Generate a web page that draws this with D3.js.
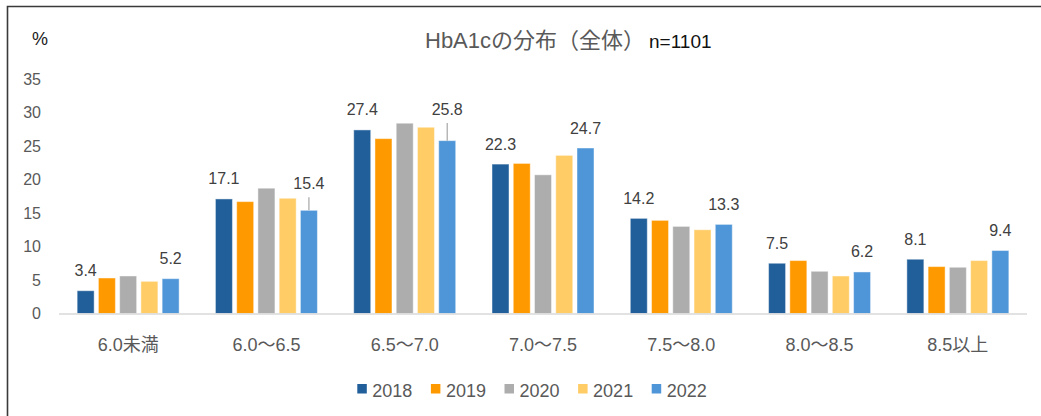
<!DOCTYPE html>
<html>
<head>
<meta charset="utf-8">
<script src="https://cdn.jsdelivr.net/npm/d3@7"></script>
<style>
	body{margin:0;background:#fff;}
	svg text{font-family:"Liberation Sans",Arial,"Noto Sans CJK JP",sans-serif;}
</style>
</head>
<body>
<div id="chart"></div>
<script>

// data
var categories=["6.0未満","6.0～6.5","6.5～7.0","7.0～7.5","7.5～8.0","8.0～8.5","8.5以上"];
var years=["2018","2019","2020","2021","2022"];
var v2018=[3.4,17.1,27.4,22.3,14.2,7.5,8.1],
	v2019=[5.3,16.7,26.1,22.4,13.9,7.9,7.0],
	v2020=[5.6,18.7,28.4,20.7,13.0,6.3,6.9],
	v2021=[4.8,17.2,27.8,23.6,12.5,5.6,7.9],
	v2022=[5.2,15.4,25.8,24.7,13.3,6.2,9.4];
var yTicks=[0,5,10,15,20,25,30,35];
var labelledYears=["2018","2022"];

var series=[v2018,v2019,v2020,v2021,v2022];
var colors=["#215f9a","#ff9900","#adadad","#ffcc66","#4f96d8"];

// labels pushed up with a leader line (category index|year -> extra lift)
var lift={"1|2022":7,"2|2022":11.6};

var WIDTH=1041,
	HEIGHT=416;

var svg=d3.select("#chart")
			.append("svg")
				.attr("width",WIDTH)
				.attr("height",HEIGHT);

svg.append("rect")
	.attr("width",WIDTH)
	.attr("height",HEIGHT)
	.attr("fill","#fff");

// frame (top and left edges only)
svg.append("path")
	.attr("d","M7.5,"+HEIGHT+"V6.5H"+WIDTH)
	.attr("fill","none")
	.attr("stroke","#3a3a3a")
	.attr("stroke-width",1.6);

var yscale=d3.scaleLinear()
		.domain([0,35])
		.range([313.5,79]);

var x0=d3.scaleBand()
		.domain(categories)
		.range([59,1027])
		.paddingInner(0.2625)
		.paddingOuter(0.13125);

var x1=d3.scaleBand()
		.domain(years)
		.range([0,x0.bandwidth()])
		.paddingInner(0.2)
		.paddingOuter(0);

// y axis
var yaxis=svg.append("g")
		.attr("transform","translate(45,0)")
		.call(d3.axisLeft(yscale).tickValues(yTicks).tickSize(0).tickPadding(4));
yaxis.select(".domain").remove();
yaxis.selectAll("text")
	.attr("fill","#595959")
	.style("font-size","16px")
	.style("font-family","\"Liberation Sans\",Arial,sans-serif");

svg.append("text")
	.attr("x",32)
	.attr("y",45)
	.attr("fill","#1a1a1a")
	.style("font-size","18px")
	.text("%");

// title
var title=svg.append("text")
		.attr("x",425)
		.attr("y",48);
title.append("tspan")
	.attr("fill","#595959")
	.style("font-size","22px")
	.text("HbA1cの分布（全体）");
title.append("tspan")
	.attr("dx",4)
	.attr("fill","#111")
	.style("font-size","19px")
	.text("n=1101");

// bars
var rows=[];
categories.forEach(function(c,i){
	years.forEach(function(y,j){
		rows.push({cat:c,ci:i,year:y,value:series[j][i],color:colors[j]});
	});
});

svg.append("g")
	.selectAll("rect")
	.data(rows)
	.enter()
		.append("rect")
			.attr("x",function(d){return x0(d.cat)+x1(d.year);})
			.attr("y",function(d){return yscale(d.value);})
			.attr("width",x1.bandwidth())
			.attr("height",function(d){return yscale(0)-yscale(d.value);})
			.attr("fill",function(d){return d.color;})
			.attr("stroke","#fff")
			.attr("stroke-opacity",0.45)
			.attr("stroke-width",1);

// baseline
svg.append("line")
	.attr("x1",59)
	.attr("x2",1027)
	.attr("y1",yscale(0)+0.5)
	.attr("y2",yscale(0)+0.5)
	.attr("stroke","#d9d9d9")
	.attr("stroke-width",1.5);

// data labels
var labelled=rows.filter(function(d){
	return labelledYears.indexOf(d.year)>=0;
});

function labelY(d){
	return yscale(d.value)-20-(lift[d.ci+"|"+d.year]||0);
}
function barCenter(d){
	return x0(d.cat)+x1(d.year)+x1.bandwidth()/2;
}

svg.append("g")
	.selectAll("line")
	.data(labelled.filter(function(d){return lift[d.ci+"|"+d.year];}))
	.enter()
		.append("line")
			.attr("x1",barCenter)
			.attr("x2",barCenter)
			.attr("y1",function(d){return labelY(d)+14;})
			.attr("y2",function(d){return yscale(d.value);})
			.attr("stroke","#a6a6a6")
			.attr("stroke-width",1.2);

svg.append("g")
	.selectAll("text")
	.data(labelled)
	.enter()
		.append("text")
			.attr("x",barCenter)
			.attr("y",function(d){return labelY(d)+5.5;})
			.attr("text-anchor","middle")
			.attr("fill","#404040")
			.style("font-size","16px")
			.text(function(d){return d3.format(".1f")(d.value);});

// category labels
svg.append("g")
	.selectAll("text")
	.data(categories)
	.enter()
		.append("text")
			.attr("x",function(d){return x0(d)+x0.bandwidth()/2;})
			.attr("y",350.5)
			.attr("text-anchor","middle")
			.attr("fill","#595959")
			.style("font-size","18px")
			.text(function(d){return d;});

// legend
var legend=svg.append("g")
		.selectAll("g")
		.data(years)
		.enter()
			.append("g")
				.attr("transform",function(d,i){
					return "translate("+(357.3+i*73.6)+",384)";
				});
legend.append("rect")
	.attr("width",9.5)
	.attr("height",9.5)
	.attr("fill",function(d,i){return colors[i];});
legend.append("text")
	.attr("x",15)
	.attr("y",13.3)
	.attr("fill","#595959")
	.style("font-size","18px")
	.text(function(d){return d;});

</script>
</body>
</html>
